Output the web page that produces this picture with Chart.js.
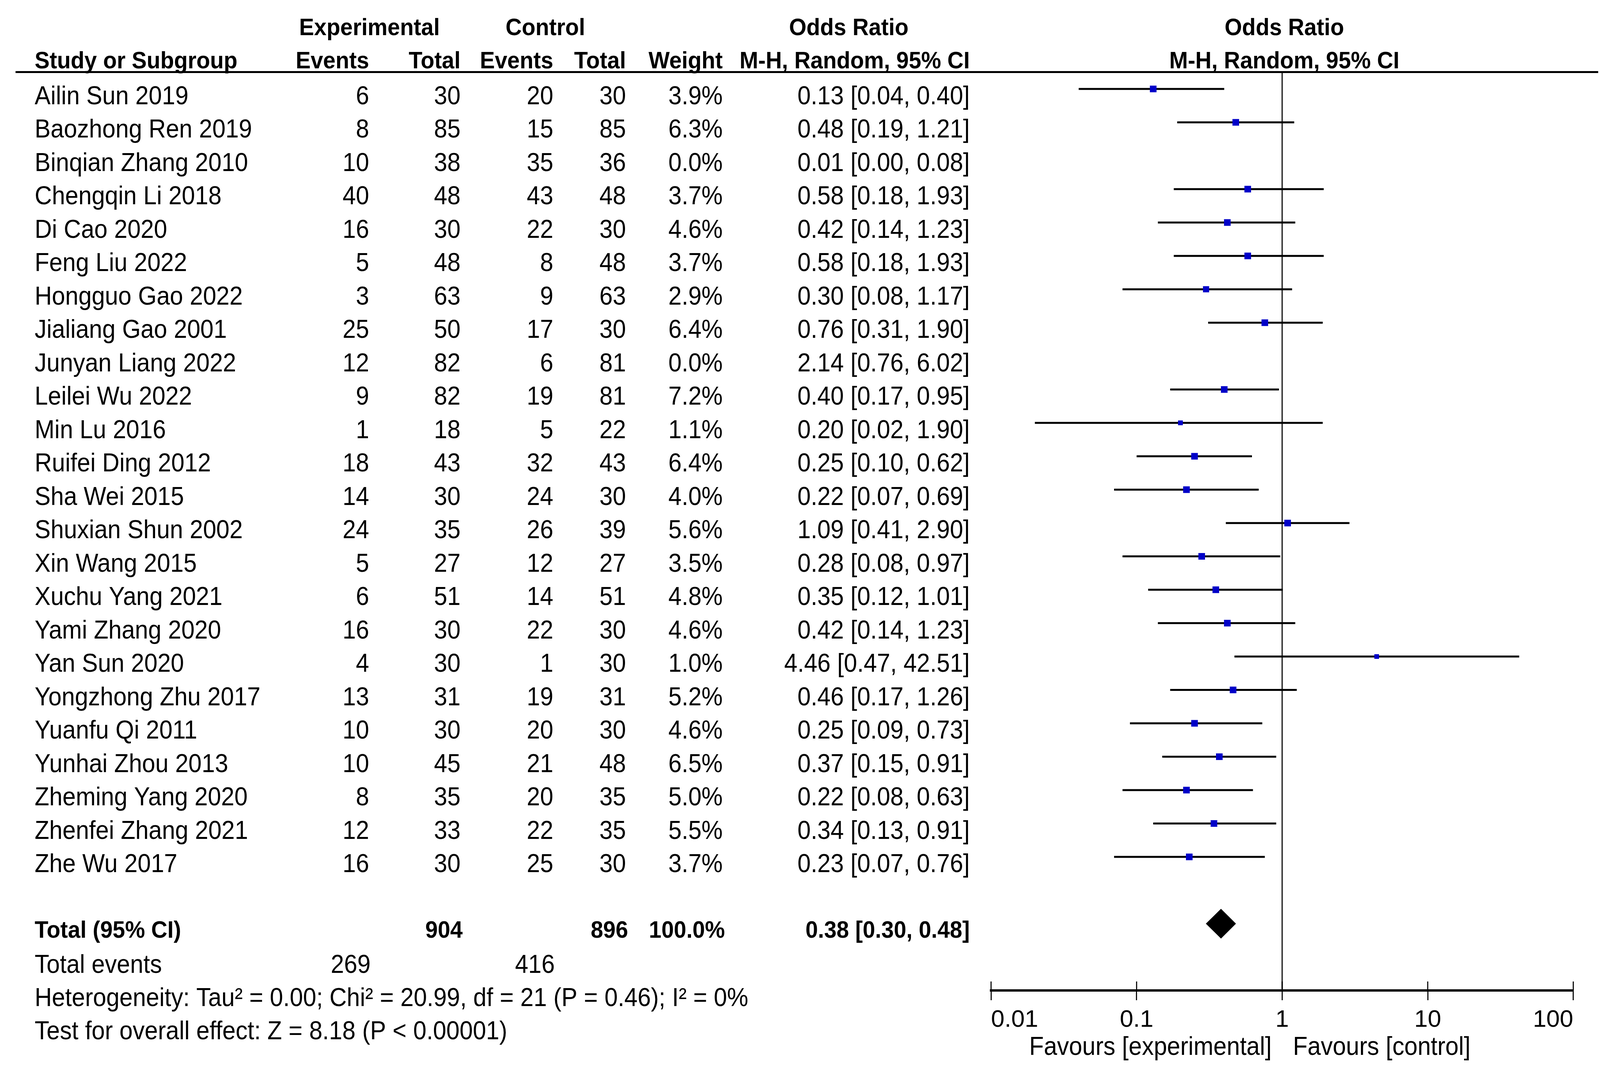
<!DOCTYPE html>
<html lang="en">
<head>
<meta charset="UTF-8">
<script src="https://cdn.jsdelivr.net/npm/chart.js"></script>
<title>Forest plot</title>
<style>
  html, body { margin: 0; padding: 0; background: #fff; overflow: hidden; }
  canvas { display: block; }
</style>
</head>
<body>
<canvas id="forest"></canvas>

<script>
// study data
const studies = ["Ailin Sun 2019","Baozhong Ren 2019","Binqian Zhang 2010","Chengqin Li 2018","Di Cao 2020","Feng Liu 2022","Hongguo Gao 2022","Jialiang Gao 2001","Junyan Liang 2022","Leilei Wu 2022","Min Lu 2016","Ruifei Ding 2012","Sha Wei 2015","Shuxian Shun 2002","Xin Wang 2015","Xuchu Yang 2021","Yami Zhang 2020","Yan Sun 2020","Yongzhong Zhu 2017","Yuanfu Qi 2011","Yunhai Zhou 2013","Zheming Yang 2020","Zhenfei Zhang 2021","Zhe Wu 2017"]
const expEvents = [6,8,10,40,16,5,3,25,12,9,1,18,14,24,5,6,16,4,13,10,10,8,12,16]
const expTotal  = [30,85,38,48,30,48,63,50,82,82,18,43,30,35,27,51,30,30,31,30,45,35,33,30]
const ctlEvents = [20,15,35,43,22,8,9,17,6,19,5,32,24,26,12,14,22,1,19,20,21,20,22,25]
const ctlTotal  = [30,85,36,48,30,48,63,30,81,81,22,43,30,39,27,51,30,30,31,30,48,35,35,30]
const weights   = [3.9,6.3,0.0,3.7,4.6,3.7,2.9,6.4,0.0,7.2,1.1,6.4,4.0,5.6,3.5,4.8,4.6,1.0,5.2,4.6,6.5,5.0,5.5,3.7]
const oddsRatio = [0.13,0.48,0.01,0.58,0.42,0.58,0.30,0.76,2.14,0.40,0.20,0.25,0.22,1.09,0.28,0.35,0.42,4.46,0.46,0.25,0.37,0.22,0.34,0.23]
const ciLow     = [0.04,0.19,0.00,0.18,0.14,0.18,0.08,0.31,0.76,0.17,0.02,0.10,0.07,0.41,0.08,0.12,0.14,0.47,0.17,0.09,0.15,0.08,0.13,0.07]
const ciHigh    = [0.40,1.21,0.08,1.93,1.23,1.93,1.17,1.90,6.02,0.95,1.90,0.62,0.69,2.90,0.97,1.01,1.23,42.51,1.26,0.73,0.91,0.63,0.91,0.76]

// pooled result
const totalOR = [0.38, 0.30, 0.48]       // estimate, low, high
const totalN = [904, 896]                // experimental, control
const totalEvents = [269, 416]
const heterogeneity = "Heterogeneity: Tau² = 0.00; Chi² = 20.99, df = 21 (P = 0.46); I² = 0%"
const overallTest = "Test for overall effect: Z = 8.18 (P < 0.00001)"

const tickValues = [0.01, 0.1, 1, 10, 100]
const tickLabels = ["0.01", "0.1", "1", "10", "100"]

const TOTAL_ROW = 25   // y position of the pooled row (rows are 0..23)
const FONT = "'Liberation Sans', Arial, sans-serif"

// layout measured on the 4430 x 2732 picture, stretched to whatever window we get
const KX = window.innerWidth / 4430
const KY = window.innerHeight / 2732
const sx = v => v * KX
const sy = v => v * KY

const canvas = document.getElementById('forest')
canvas.style.width = window.innerWidth + 'px'
canvas.style.height = window.innerHeight + 'px'

// datasets
const ciSets = []
studies.forEach((s, i) => {
  if (weights[i] === 0) return   // excluded studies are not drawn
  ciSets.push({
    data: [{x: ciLow[i], y: i}, {x: ciHigh[i], y: i}],
    showLine: true, borderColor: '#000', borderWidth: sy(5),
    pointRadius: 0, order: 1, borderCapStyle: 'butt'
  })
})

const squarePts = [], squareSizes = []
studies.forEach((s, i) => {
  if (weights[i] === 0) return
  squarePts.push({x: oddsRatio[i], y: i})
  squareSizes.push(sy(Math.min(17, 10 + 2 * weights[i])) / Math.SQRT2)
})

const datasets = [
  {
    data: squarePts, pointStyle: 'rect', pointRadius: squareSizes,
    backgroundColor: '#0000C8', borderWidth: 0, order: 0
  },
  ...ciSets,
  {
    // no-effect line
    data: [{x: 1, y: -0.5}, {x: 1, y: 27}],
    showLine: true, borderColor: '#333', borderWidth: sx(4), pointRadius: 0, order: 2
  },
  {
    // pooled diamond
    data: [
      {x: totalOR[1], y: TOTAL_ROW},
      {x: totalOR[0], y: TOTAL_ROW - 0.44},
      {x: totalOR[2], y: TOTAL_ROW},
      {x: totalOR[0], y: TOTAL_ROW + 0.44},
      {x: totalOR[1], y: TOTAL_ROW}
    ],
    showLine: true, fill: 'shape', backgroundColor: '#000',
    borderColor: '#000', borderWidth: 1, pointRadius: 0, tension: 0, order: 0
  }
]

// column right edges of the table (px on the 4430 picture)
const col = { name: 96, expEv: 1022, expTot: 1275, ctlEv: 1532, ctlTot: 1733, weight: 2001, orci: 2685 }

// text is drawn at the picture's height and squeezed sideways with the window
function txt(ctx, s, x, y, align, bold) {
  ctx.save()
  ctx.font = (bold ? 'bold ' + sy(62) : sy(66)) + 'px ' + FONT
  ctx.textAlign = align
  ctx.textBaseline = 'alphabetic'
  ctx.fillStyle = '#000'
  ctx.translate(x, y)
  ctx.scale(KX / KY, 1)
  ctx.fillText(s, 0, 0)
  ctx.restore()
}

const tablePlugin = {
  id: 'table',
  afterDraw(chart) {
    const ctx = chart.ctx
    const y = chart.scales.y
    const x = chart.scales.x
    const area = chart.chartArea
    ctx.save()

    // header rule
    ctx.strokeStyle = '#000'
    ctx.lineWidth = sy(5)
    ctx.beginPath()
    ctx.moveTo(sx(43), sy(184.5))
    ctx.lineTo(sx(4425), sy(184.5))
    ctx.stroke()

    // upper half of the axis ticks
    ctx.lineWidth = sx(3)
    tickValues.forEach(v => {
      const tx = x.getPixelForValue(v)
      ctx.beginPath()
      ctx.moveTo(tx, area.bottom - sy(23))
      ctx.lineTo(tx, area.bottom)
      ctx.stroke()
    })
    ctx.restore()

    const one = x.getPixelForValue(1)

    // headers
    txt(ctx, 'Experimental', sx(1023), sy(90), 'center', true)
    txt(ctx, 'Control', sx(1510), sy(90), 'center', true)
    txt(ctx, 'Odds Ratio', sx(2350), sy(90), 'center', true)
    txt(ctx, 'Odds Ratio', one + sx(6), sy(90), 'center', true)
    txt(ctx, 'Study or Subgroup', sx(col.name), sy(175), 'left', true)
    txt(ctx, 'Events', sx(col.expEv), sy(175), 'right', true)
    txt(ctx, 'Total', sx(col.expTot), sy(175), 'right', true)
    txt(ctx, 'Events', sx(col.ctlEv), sy(175), 'right', true)
    txt(ctx, 'Total', sx(col.ctlTot), sy(175), 'right', true)
    txt(ctx, 'Weight', sx(col.weight), sy(175), 'right', true)
    txt(ctx, 'M-H, Random, 95% CI', sx(col.orci), sy(175), 'right', true)
    txt(ctx, 'M-H, Random, 95% CI', one + sx(6), sy(175), 'center', true)

    // study rows
    studies.forEach((s, i) => {
      const by = y.getPixelForValue(i) + sy(39)
      txt(ctx, s, sx(col.name), by, 'left')
      txt(ctx, String(expEvents[i]), sx(col.expEv), by, 'right')
      txt(ctx, String(expTotal[i]), sx(col.expTot), by, 'right')
      txt(ctx, String(ctlEvents[i]), sx(col.ctlEv), by, 'right')
      txt(ctx, String(ctlTotal[i]), sx(col.ctlTot), by, 'right')
      txt(ctx, weights[i].toFixed(1) + '%', sx(col.weight), by, 'right')
      txt(ctx, oddsRatio[i].toFixed(2) + ' [' + ciLow[i].toFixed(2) + ', ' + ciHigh[i].toFixed(2) + ']', sx(col.orci), by, 'right')
    })

    // pooled rows
    const ty = y.getPixelForValue(TOTAL_ROW) + sy(36)
    txt(ctx, 'Total (95% CI)', sx(col.name), ty, 'left', true)
    txt(ctx, String(totalN[0]), sx(col.expTot + 6), ty, 'right', true)
    txt(ctx, String(totalN[1]), sx(col.ctlTot + 6), ty, 'right', true)
    txt(ctx, '100.0%', sx(col.weight + 6), ty, 'right', true)
    txt(ctx, totalOR[0].toFixed(2) + ' [' + totalOR[1].toFixed(2) + ', ' + totalOR[2].toFixed(2) + ']', sx(col.orci), ty, 'right', true)
    txt(ctx, 'Total events', sx(col.name), ty + sy(90), 'left')
    txt(ctx, String(totalEvents[0]), sx(col.expEv + 4), ty + sy(90), 'right')
    txt(ctx, String(totalEvents[1]), sx(col.ctlEv + 4), ty + sy(90), 'right')
    txt(ctx, heterogeneity, sx(col.name), ty + sy(175), 'left')
    txt(ctx, overallTest, sx(col.name), ty + sy(260), 'left')

    // favours labels
    txt(ctx, 'Favours [experimental]', one - sx(29), area.bottom + sy(165), 'right')
    txt(ctx, 'Favours [control]', one + sx(30), area.bottom + sy(165), 'left')
  }
}

new Chart(canvas, {
  type: 'scatter',
  data: { datasets: datasets },
  options: {
    responsive: false,
    animation: false,
    layout: { padding: { left: sx(2744), right: sx(74), top: sy(185), bottom: sy(46) } },
    plugins: { legend: { display: false }, tooltip: { enabled: false } },
    scales: {
      x: {
        type: 'logarithmic',
        min: 0.01, max: 100,
        position: 'bottom',
        afterBuildTicks: scale => { scale.ticks = tickValues.map(v => ({ value: v })) },
        afterFit: scale => { scale.height = sy(150) },
        border: { display: true, color: '#000', width: sy(6) },
        grid: { display: true, drawOnChartArea: false, drawTicks: true, tickLength: sy(25), lineWidth: sx(3), color: '#000' },
        ticks: {
          align: 'inner', padding: sy(14), color: '#000',
          font: { size: sy(62), family: FONT },
          maxRotation: 0, autoSkip: false,
          callback: (v, i) => tickLabels[i]
        }
      },
      y: {
        type: 'linear', min: -0.5, max: 27, reverse: true, display: false
      }
    }
  },
  plugins: [tablePlugin]
})
</script>
</body>
</html>
